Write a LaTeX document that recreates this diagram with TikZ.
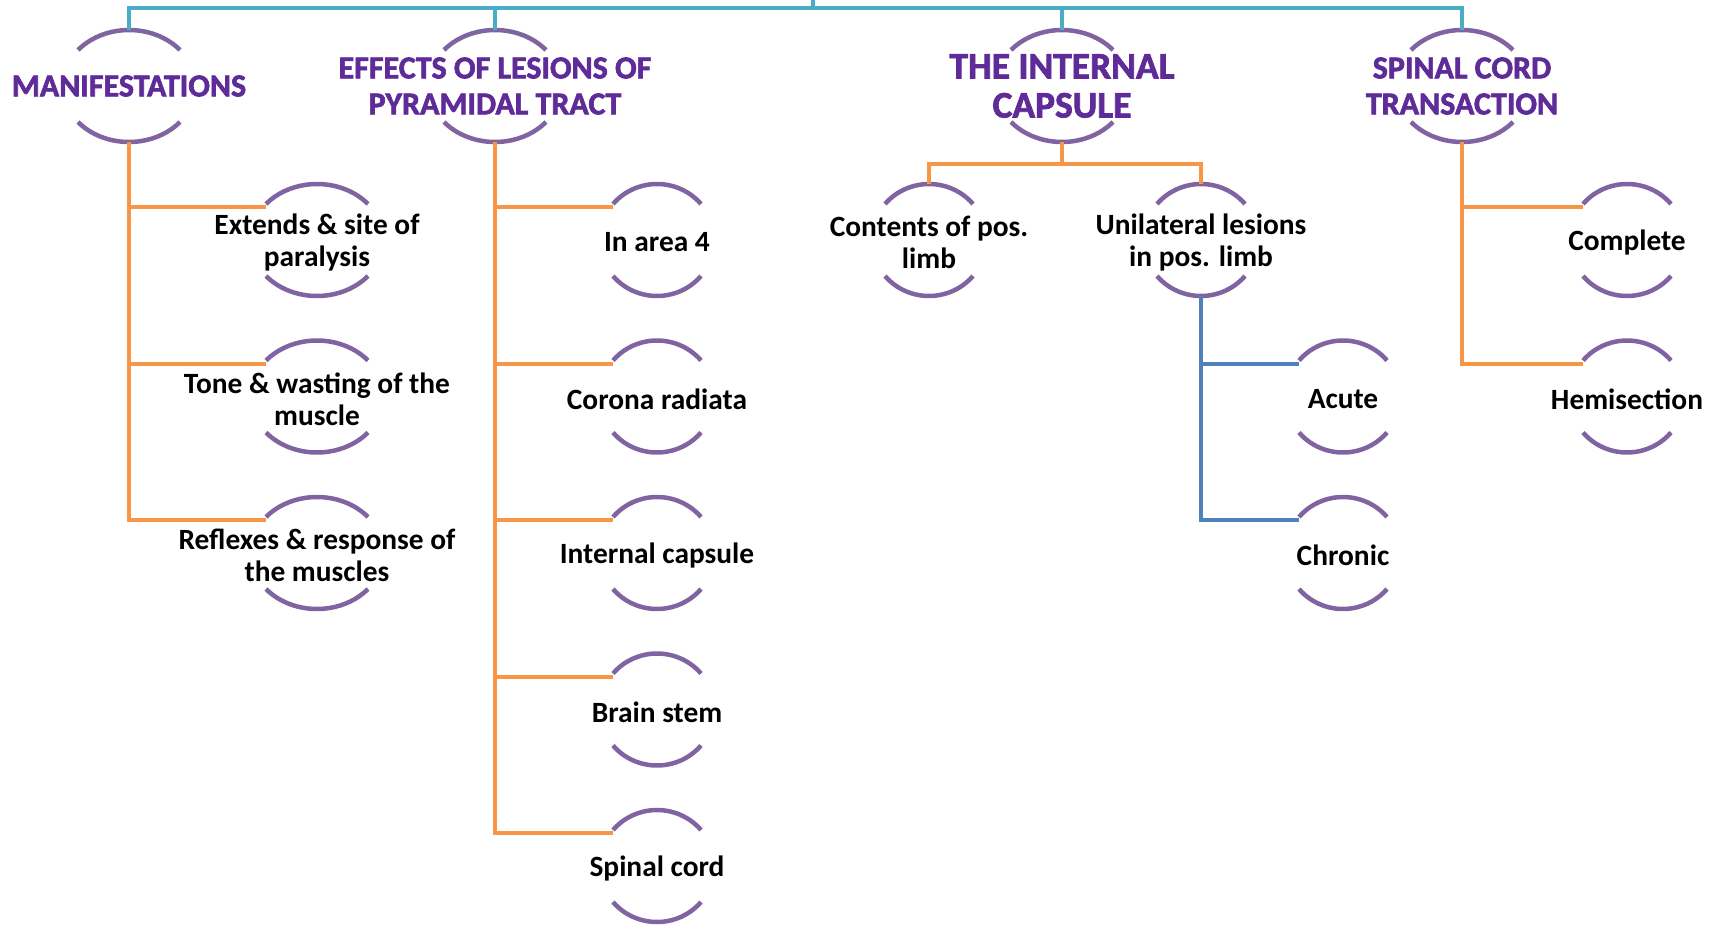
\documentclass[tikz,border=0pt]{standalone}
\usepackage{fontspec}
\setmainfont{Carlito}
\newfontfamily\ttlfont[FakeBold=2]{Carlito Bold}
\usetikzlibrary{calc}
\definecolor{cteal}{HTML}{4BACC6}
\definecolor{corange}{HTML}{F79646}
\definecolor{cblue}{HTML}{4F81BD}
\definecolor{cpurple}{HTML}{8064A2}
\definecolor{ctitle}{HTML}{5E2B98}
\tikzset{
  x=1pt,y=1pt,
  txt/.style={align=center,font=\fontsize{29.4}{32}\selectfont\bfseries,inner sep=0pt,yshift=-2.5pt},
  ttl/.style={align=center,font=\fontsize{32}{36}\selectfont\ttlfont,text=ctitle,inner sep=0pt},
  ttlbig/.style={align=center,font=\fontsize{37.5}{39}\selectfont\ttlfont,text=ctitle,inner sep=0pt},
  arcline/.style={draw=cpurple,line width=4.5pt},
  tealline/.style={draw=cteal,line width=4pt},
  orline/.style={draw=corange,line width=4pt},
  blline/.style={draw=cblue,line width=4pt},
}
% \arcnode{name}{cx}{cy}{halfwidth}{style}{text}
\newcommand{\arcnode}[6]{%
  \pgfmathsetmacro{\rx}{#4/cos(40)}%
  \node[#5] (#1) at (#2,#3) {#6};
  \coordinate (#1-t) at (#2,#3+56);
  \coordinate (#1-b) at (#2,#3-56);
  \coordinate (#1-l) at (#2-#4,#3+33);
  \draw[arcline] ($(#2,#3)+(40:\rx pt and 56pt)$) arc[start angle=40,end angle=140,x radius=\rx pt,y radius=56pt];
  \draw[arcline] ($(#2,#3)+(220:\rx pt and 56pt)$) arc[start angle=220,end angle=320,x radius=\rx pt,y radius=56pt];
}
\begin{document}
\begin{tikzpicture}
\useasboundingbox (0,0) rectangle (1713,-926);
% top level
\arcnode{man}{129}{-86}{51}{ttl}{MANIFESTATIONS}
\arcnode{eff}{495}{-86}{51}{ttl}{EFFECTS OF LESIONS OF\\PYRAMIDAL TRACT}
\arcnode{int}{1062}{-86}{51}{ttlbig}{THE INTERNAL\\CAPSULE}
\arcnode{spc}{1462}{-86}{51}{ttl}{SPINAL CORD\\TRANSACTION}
% manifestations children
\arcnode{m1}{317}{-240}{51}{txt}{Extends \& site of\\paralysis}
\arcnode{m2}{317}{-396.5}{51}{txt}{Tone \& wasting of the\\muscle}
\arcnode{m3}{317}{-553}{51}{txt}{Reflexes \& response of\\the muscles}
% effects children
\arcnode{e1}{657}{-240}{44}{txt}{In area 4}
\arcnode{e2}{657}{-396.5}{44}{txt}{Corona radiata}
\arcnode{e3}{657}{-553}{44}{txt}{Internal capsule}
\arcnode{e4}{657}{-709.5}{44}{txt}{Brain stem}
\arcnode{e5}{657}{-866}{44}{txt}{Spinal cord}
% internal capsule children
\arcnode{i1}{929}{-240}{44}{txt}{Contents of pos.\\limb}
\arcnode{i2}{1201}{-240}{44}{txt}{Unilateral lesions\\in pos. limb}
\arcnode{u1}{1343}{-396.5}{44}{txt}{Acute}
\arcnode{u2}{1343}{-553}{44}{txt}{Chronic}
% spinal cord children
\arcnode{s1}{1627}{-240}{44}{txt}{Complete}
\arcnode{s2}{1627}{-396.5}{44}{txt}{Hemisection}
% connectors
\coordinate (root) at (813,0);
\coordinate (bus) at (813,-8);
\draw[tealline] (root) -- (bus) -| (man-t);
\draw[tealline] (bus) -| (eff-t);
\draw[tealline] (bus) -| (int-t);
\draw[tealline] (bus) -| (spc-t);
\foreach \c in {m1,m2,m3}{\draw[orline] (man-b) |- (\c-l);}
\foreach \c in {e1,e2,e3,e4,e5}{\draw[orline] (eff-b) |- (\c-l);}
\coordinate (ij) at (1062,-164);
\draw[orline] (int-b) -- (ij) -| (i1-t);
\draw[orline] (ij) -| (i2-t);
\foreach \c in {u1,u2}{\draw[blline] (i2-b) |- (\c-l);}
\foreach \c in {s1,s2}{\draw[orline] (spc-b) |- (\c-l);}
\end{tikzpicture}
\end{document}
